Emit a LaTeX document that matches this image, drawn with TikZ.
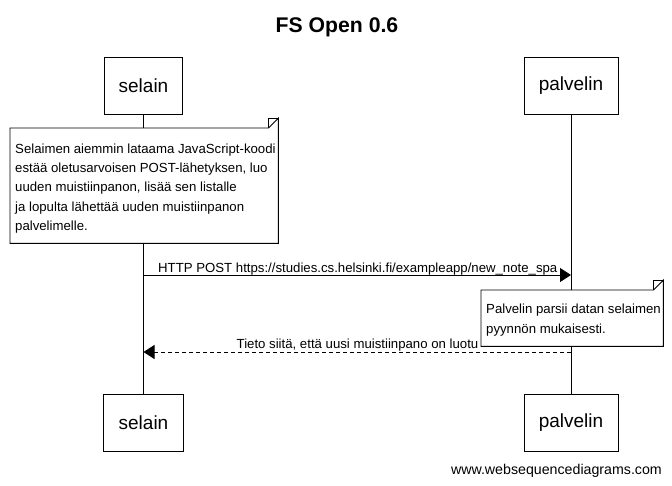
\documentclass[tikz,border=0pt]{standalone}
\usepackage{fontspec}
\setmainfont{Liberation Sans}
\usetikzlibrary{arrows.meta}
\begin{document}
\begin{tikzpicture}[x=1pt,y=-1pt,
  actor/.style={draw, line width=0.9pt, fill=white, inner sep=0pt, minimum height=57pt, font=\fontsize{19}{19}\selectfont},
  frame/.style={inner sep=0pt, anchor=north west},
  notetext/.style={anchor=north west, align=left, inner sep=0pt, font=\fontsize{13.2}{19.3}\selectfont},
  lbl/.style={inner sep=0pt, font=\fontsize{13.2}{15}\selectfont},
  life/.style={line width=0.9pt},
  msg/.style={line width=0.9pt, -{Triangle[length=11pt,width=14pt]}},
  reply/.style={msg, dash pattern=on 4pt off 3pt}
]
\useasboundingbox (0,0) rectangle (672,485);
% title
\node[anchor=base, inner sep=0pt, font=\fontsize{21.2}{23}\bfseries] (title) at (337,32) {FS Open 0.6};
% actors
\node[actor, minimum width=78pt] (st) at (143.5,85.5) {selain};
\node[actor, minimum width=94pt] (pt) at (571,85.5) {palvelin};
\node[actor, minimum width=80pt] (sb) at (143.5,422.5) {selain};
\node[actor, minimum width=94pt] (pb) at (571,422.5) {palvelin};
% lifelines
\draw[life] (st.south) -- (sb.north);
\draw[life] (pt.south) -- (pb.north);
% note 1
\node[frame, minimum width=268pt, minimum height=115pt] (n1) at (10,128) {};
\draw[line width=0.9pt, fill=white] (n1.north west) -- ([xshift=-10pt]n1.north east) -- ([yshift=10pt]n1.north east) -- (n1.south east) -- (n1.south west) -- cycle;
\draw[line width=0.6pt] ([xshift=-10pt]n1.north east) -- ([xshift=-10pt,yshift=10pt]n1.north east) -- ([yshift=10pt]n1.north east);
\node[notetext] (t1) at (15,143.5) {Selaimen aiemmin lataama JavaScript-koodi\\estää oletusarvoisen POST-lähetyksen, luo\\uuden muistiinpanon, lisää sen listalle\\ja lopulta lähettää uuden muistiinpanon\\palvelimelle.};
% message 1
\coordinate (m1s) at (143.5,275);
\coordinate (m1e) at (571,275);
\draw[msg] (m1s) -- (m1e);
\node[lbl, anchor=base west] (l1) at (158,272.5) {HTTP POST https://studies.cs.helsinki.fi/exampleapp/new\_note\_spa};
% note 2
\node[frame, minimum width=182pt, minimum height=56pt] (n2) at (481,290) {};
\draw[line width=0.9pt, fill=white] (n2.north west) -- ([xshift=-10pt]n2.north east) -- ([yshift=10pt]n2.north east) -- (n2.south east) -- (n2.south west) -- cycle;
\draw[line width=0.6pt] ([xshift=-10pt]n2.north east) -- ([xshift=-10pt,yshift=10pt]n2.north east) -- ([yshift=10pt]n2.north east);
\node[notetext] (t2) at (486,304) {Palvelin parsii datan selaimen\\pyynnön mukaisesti.};
% reply
\coordinate (m2s) at (571,352);
\coordinate (m2e) at (143.5,352);
\draw[reply] (m2s) -- (m2e);
\node[lbl, anchor=base] (l2) at (357.5,348.5) {Tieto siitä, että uusi muistiinpano on luotu};
% footer
\node[inner sep=0pt, font=\fontsize{14.2}{16}\selectfont, anchor=base east] (ft) at (662,474) {www.websequencediagrams.com};
\end{tikzpicture}
\end{document}
